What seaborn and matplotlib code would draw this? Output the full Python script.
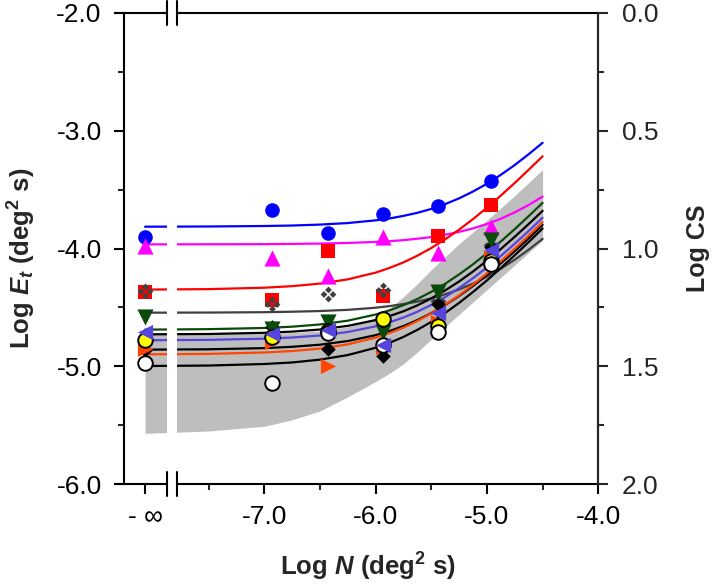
import matplotlib
matplotlib.use("Agg")
import matplotlib.pyplot as plt
import seaborn as sns
from matplotlib.path import Path
from matplotlib.patches import Rectangle
from matplotlib.lines import Line2D

# ---------------- data ----------------
log_n_pos = [-8.07, -6.93, -6.43, -5.93, -5.44, -4.96]   # first entry = "-inf" position
x_tick_pos = [-8.07, -7.0, -6.0, -5.0, -4.0]
x_tick_labels = ["- \u221e", "-7.0", "-6.0", "-5.0", "-4.0"]
x_minor_pos = [-7.5, -6.5, -5.5, -4.5]
y_tick_pos = [-2.0, -3.0, -4.0, -5.0, -6.0]
y_tick_labels = ["-2.0", "-3.0", "-4.0", "-5.0", "-6.0"]
y_minor_pos = [-2.5, -3.5, -4.5, -5.5]
cs_tick_pos = [0.0, 0.5, 1.0, 1.5, 2.0]
cs_tick_labels = ["0.0", "0.5", "1.0", "1.5", "2.0"]
cs_minor_pos = [0.25, 0.75, 1.25, 1.75]

blue_pts = [-3.90, -3.67, -3.87, -3.71, -3.64, -3.43]
magenta_pts = [-3.98, -4.08, -4.23, -3.905, -4.04, -3.82]
red_pts = [-4.37, -4.44, -4.02, -4.40, -3.89, -3.63]
dgray_pts = [-4.36, -4.47, -4.39, -4.35, -4.45, -3.97]
green_pts = [-4.58, -4.68, -4.62, -4.71, -4.37, -3.93]
black_pts = [-4.86, -4.67, -4.85, -4.91, -4.47, -3.985]
slate_pts = [-4.71, -4.73, -4.69, -4.82, -4.55, -4.01]
yellow_pts = [-4.78, -4.75, -4.70, -4.60, -4.66, -4.11]
orange_pts = [-4.85, -4.79, -5.00, -4.84, -4.62, -4.08]
white_pts = [-4.975, -5.14, -4.72, -4.82, -4.71, -4.13]

curve_x = [-8.07, -7.5, -7.0, -6.75, -6.5, -6.25, -6.0, -5.875, -5.75, -5.625,
           -5.5, -5.375, -5.25, -5.125, -5.0, -4.875, -4.75, -4.625, -4.5]
blue_fit = [-3.815, -3.813, -3.809, -3.805, -3.797, -3.784, -3.761, -3.745, -3.723, -3.697,
            -3.664, -3.623, -3.574, -3.516, -3.450, -3.374, -3.291, -3.199, -3.102]
magenta_fit = [-3.965, -3.964, -3.963, -3.961, -3.958, -3.953, -3.944, -3.938, -3.929, -3.917,
               -3.903, -3.883, -3.859, -3.829, -3.792, -3.747, -3.693, -3.630, -3.559]
red_fit = [-4.349, -4.345, -4.333, -4.320, -4.298, -4.262, -4.205, -4.165, -4.118, -4.061,
           -3.996, -3.922, -3.840, -3.750, -3.653, -3.550, -3.443, -3.331, -3.217]
dgray_fit = [-4.545, -4.544, -4.541, -4.537, -4.531, -4.521, -4.503, -4.489, -4.472, -4.451,
             -4.423, -4.389, -4.348, -4.298, -4.239, -4.171, -4.095, -4.010, -3.918]
green_fit = [-4.689, -4.685, -4.675, -4.664, -4.645, -4.613, -4.561, -4.525, -4.481, -4.429,
             -4.368, -4.299, -4.220, -4.134, -4.040, -3.940, -3.835, -3.725, -3.612]
black1_fit = [-4.729, -4.726, -4.716, -4.706, -4.688, -4.657, -4.608, -4.574, -4.533, -4.483,
              -4.424, -4.356, -4.280, -4.195, -4.103, -4.004, -3.900, -3.792, -3.680]
slate_fit = [-4.779, -4.776, -4.766, -4.756, -4.739, -4.709, -4.661, -4.627, -4.586, -4.537,
             -4.479, -4.412, -4.336, -4.252, -4.161, -4.063, -3.959, -3.851, -3.739]
black2_fit = [-4.859, -4.856, -4.846, -4.835, -4.817, -4.786, -4.736, -4.701, -4.659, -4.608,
              -4.549, -4.480, -4.403, -4.318, -4.225, -4.126, -4.022, -3.913, -3.800]
orange_fit = [-4.899, -4.895, -4.883, -4.871, -4.850, -4.814, -4.757, -4.718, -4.672, -4.616,
              -4.552, -4.478, -4.397, -4.307, -4.211, -4.108, -4.001, -3.890, -3.776]
black3_fit = [-4.998, -4.994, -4.981, -4.968, -4.944, -4.905, -4.843, -4.801, -4.751, -4.691,
              -4.623, -4.547, -4.462, -4.369, -4.271, -4.166, -4.057, -3.945, -3.830]

band_upper = [-4.72, -4.72, -4.72, -4.715, -4.70, -4.665, -4.59, -4.51, -4.41, -4.30,
              -4.18, -4.07, -3.96, -3.86, -3.76, -3.655, -3.55, -3.44, -3.33]
band_lower = [-5.57, -5.55, -5.51, -5.455, -5.38, -5.26, -5.13, -5.06, -4.98, -4.88,
              -4.77, -4.665, -4.56, -4.455, -4.35, -4.245, -4.14, -4.035, -3.93]

# ---------------- style ----------------
sns.set_style("ticks")
plt.rcParams["font.family"] = ["Liberation Sans", "DejaVu Sans"]
plt.rcParams["mathtext.fontset"] = "custom"
plt.rcParams["mathtext.rm"] = "Liberation Sans:bold"
plt.rcParams["mathtext.it"] = "Liberation Sans:bold:italic"
plt.rcParams["mathtext.bf"] = "Liberation Sans:bold"

W, H = 712, 585
fig = plt.figure(figsize=(W / 100, H / 100), dpi=100)
ax = fig.add_axes([115 / W, 1 - 484 / H, (598.3 - 115) / W, (484 - 13) / H])
ax.set_xlim(-8.34, -4.0)
ax.set_ylim(-6.0, -2.0)

# grey band
ax.fill_between(curve_x, band_lower, band_upper, color="#bebebe", lw=0, zorder=1)

# fitted curves
curves = [
    (blue_fit, "#0000ff"), (magenta_fit, "#ff00ff"), (red_fit, "#ff0000"),
    (dgray_fit, "#404040"), (green_fit, "#0a4a0a"), (black1_fit, "#000000"),
    (slate_fit, "#5544dd"), (black2_fit, "#000000"), (orange_fit, "#ff4500"),
    (black3_fit, "#000000"),
]
for vals, col in curves:
    sns.lineplot(x=curve_x, y=vals, color=col, lw=1.6, ax=ax, zorder=2,
                 sort=False, legend=False)

# custom marker: four small diamonds
def four_diamonds():
    verts, codes = [], []
    off, r = 0.32, 0.24
    for cx, cy in [(0, off), (off, 0), (0, -off), (-off, 0)]:
        pts = [(cx, cy + r), (cx + r, cy), (cx, cy - r), (cx - r, cy), (cx, cy + r)]
        verts += pts
        codes += [Path.MOVETO, Path.LINETO, Path.LINETO, Path.LINETO, Path.CLOSEPOLY]
    return Path(verts, codes)

series = [
    (blue_pts, "o", 110, "#0000ff", "#0000ff", 0, 5),
    (magenta_pts, "^", 135, "#ff00ff", "#ff00ff", 0, 5),
    (red_pts, "s", 90, "#ff0000", "#ff0000", 0, 5),
    (dgray_pts, four_diamonds(), 130, "#404040", "#404040", 0, 6),
    (black_pts, "D", 55, "#000000", "#000000", 0, 6),
    (orange_pts, ">", 120, "#ff4500", "#ff4500", 0, 7),
    (green_pts, "v", 135, "#0a4a0a", "#0a4a0a", 0, 7),
    (yellow_pts, "o", 110, "#ffff00", "#000000", 1.4, 8),
    (white_pts, "o", 110, "#ffffff", "#000000", 1.4, 9),
    (slate_pts, "<", 120, "#5544dd", "#5544dd", 0, 10),
]
for vals, mk, size, fc, ec, lw, z in series:
    sns.scatterplot(x=log_n_pos, y=vals, marker=mk, s=size, color=fc,
                    edgecolor=ec, linewidth=lw, ax=ax, zorder=z, legend=False)

# spines / ticks
for sp in ax.spines.values():
    sp.set_linewidth(1.5)
    sp.set_color("black")
ax.spines["left"].set_position(("data", -8.26))

ax.set_xticks(x_tick_pos, x_tick_labels)
ax.set_xticks(x_minor_pos, minor=True)
ax.set_yticks(y_tick_pos, y_tick_labels)
ax.set_yticks(y_minor_pos, minor=True)
ax.tick_params(axis="both", which="major", direction="out", length=7, width=1.5,
               labelsize=19, top=False, right=False, colors="black")
ax.tick_params(axis="x", which="major", pad=8)
ax.tick_params(axis="y", which="major", pad=9)
ax.tick_params(axis="both", which="minor", direction="out", length=4, width=1.5,
               top=False, right=False)

ax2 = ax.twinx()
ax2.set_ylim(2.0, 0.0)
for k in ["top", "bottom", "left"]:
    ax2.spines[k].set_visible(False)
ax2.spines["right"].set_linewidth(1.5)
ax2.set_yticks(cs_tick_pos, cs_tick_labels)
ax2.set_yticks(cs_minor_pos, minor=True)
ax2.tick_params(axis="y", which="major", direction="out", length=7, width=1.5,
                labelsize=19, pad=10)
ax2.tick_params(axis="y", which="minor", direction="out", length=4, width=1.5)

# axis break
gap_l, gap_r = -7.876, -7.786
ax.add_patch(Rectangle((gap_l, -0.04), gap_r - gap_l, 1.08,
                       transform=ax.get_xaxis_transform(), facecolor="white",
                       edgecolor="none", clip_on=False, zorder=3))
for gx in (gap_l, gap_r):
    for y0 in (0.0, 1.0):
        ax.add_line(Line2D([gx, gx], [y0 - 0.026, y0 + 0.026],
                           transform=ax.get_xaxis_transform(), color="black",
                           lw=1.5, clip_on=False, zorder=4))

# labels
ax.set_xlabel("Log $N$ (deg$^2$ s)", fontsize=18.5, fontweight="bold")
ax.xaxis.set_label_coords((368 - 115) / 483.3, -0.142)
ax.set_ylabel("Log $E_t$ (deg$^2$ s)", fontsize=18.5, fontweight="bold")
ax.yaxis.set_label_coords((38 - 115) / 483.3, 0.48)
ax2.set_ylabel("Log CS", fontsize=18, fontweight="bold")
ax2.yaxis.set_label_coords((686 - 115) / 483.3, 0.50)

fig.savefig("out.png", dpi=100)
